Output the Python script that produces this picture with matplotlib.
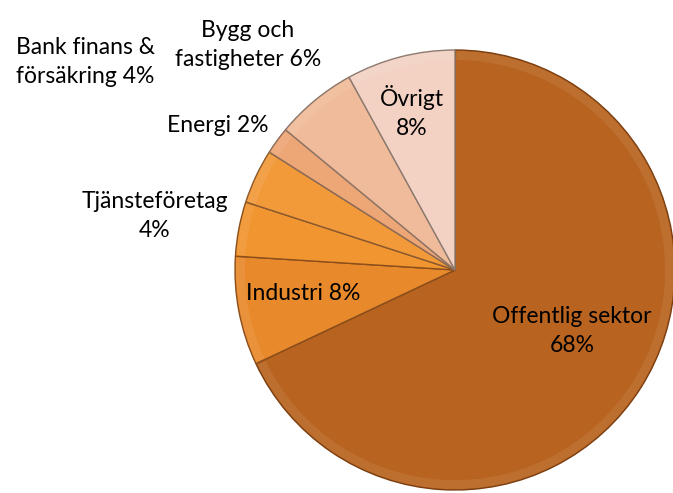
import numpy as np
import matplotlib.pyplot as plt
from matplotlib.patches import Wedge

plt.rcParams['font.family'] = ['Lato', 'DejaVu Sans']

sectors = ['Offentlig sektor', 'Industri', 'Tjänsteföretag', 'Bank finans &\nförsäkring',
           'Energi', 'Bygg och\nfastigheter', 'Övrigt']
shares = [68, 8, 4, 4, 2, 6, 8]
colors = ['#B8631F', '#E8892B', '#F0952F', '#F29A3A', '#EDA676', '#F0BB9A', '#F3D2C4']
edges = ['#7A3E10', '#8A4E1C', '#8A4E1C', '#8A5A30', '#8A6A58', '#8C7466', '#8C7A70']

# label layout: (x px, y px, line separator) in image pixels
label_pos = [(572, 331, '\n'), (303, 294, ' '), (155, 216, '\n'), (85, 62, ' '),
             (218, 126, ' '), (248, 45, ' '), (412, 112, '\n')]

W, H = 673, 493
fig = plt.figure(figsize=(W / 100, H / 100), dpi=100)
cx, cy, r = 455, 270, 220

ax = fig.add_axes([(cx - r) / W, (H - cy - r) / H, 2 * r / W, 2 * r / H])
wedges, _ = ax.pie(shares, colors=colors, startangle=90, counterclock=False, radius=1,
                   wedgeprops=dict(linewidth=1.0))
ax.set_xlim(-1, 1)
ax.set_ylim(-1, 1)
ax.set_aspect('auto')
ax.axis('off')

for w, ec in zip(wedges, edges):
    w.set_edgecolor(ec)

# soft highlight band along each wedge's rim to hint at the bevel
for w in wedges:
    ax.add_patch(Wedge((0, 0), 0.995, w.theta1 + 0.4, w.theta2 - 0.4, width=0.04,
                       facecolor='white', alpha=0.08, linewidth=0))

for name, val, (px, py, sep) in zip(sectors, shares, label_pos):
    if '\n' in name:
        txt = name + ' ' + f'{val}%'
    else:
        txt = name + sep + f'{val}%'
    ax.text((px - cx) / r, (cy - py) / r, txt, ha='center', va='center',
            fontsize=16.5, color='black', clip_on=False, linespacing=1.45)

fig.savefig('out.png', dpi=100)
